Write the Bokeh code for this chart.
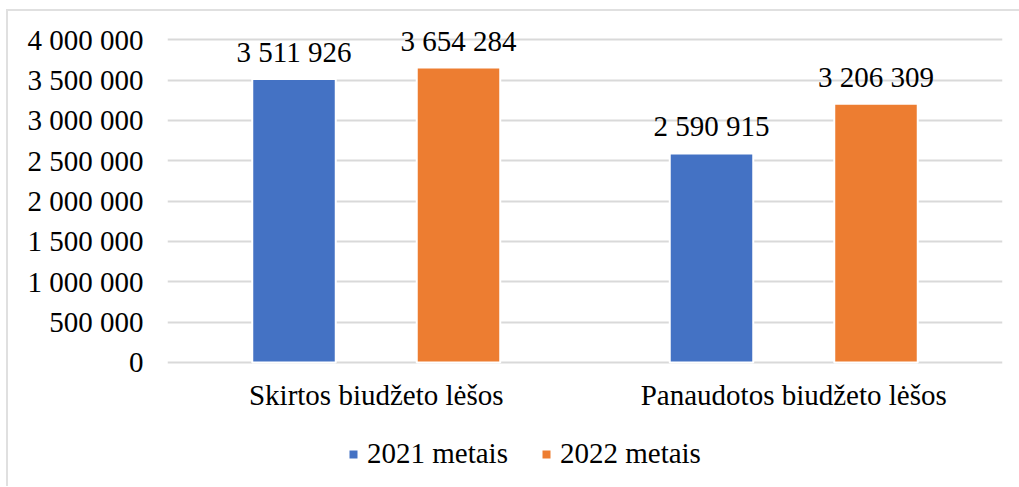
from bokeh.plotting import figure
from bokeh.models import (FactorRange, Range1d, ColumnDataSource, FixedTicker,
                          CustomJSTickFormatter, Legend, LegendItem)
from bokeh.layouts import column
from bokeh.transform import dodge
from bokeh.core.properties import value
from bokeh.embed import file_html
from bokeh.resources import INLINE

categories = ["Skirtos biudžeto lėšos", "Panaudotos biudžeto lėšos"]
series_names = ["2021 metais", "2022 metais"]
values_2021 = [3511926, 2590915]
values_2022 = [3654284, 3206309]
y_ticks = [0, 500000, 1000000, 1500000, 2000000, 2500000, 3000000, 3500000, 4000000]

FONT = "Liberation Serif"
FS = "29px"
BLUE = "#4472C4"
ORANGE = "#ED7D31"
GRID = "#d9d9d9"


def fmt(v):
    return f"{v:,}".replace(",", " ")


src = ColumnDataSource(dict(
    cat=categories,
    v21=values_2021,
    v22=values_2022,
    l21=[fmt(v) for v in values_2021],
    l22=[fmt(v) for v in values_2022],
))

p = figure(
    x_range=FactorRange(factors=categories, range_padding=0, factor_padding=0),
    y_range=Range1d(-50000, 4300000),
    width=1011, height=409,
    min_border_left=159, min_border_right=17,
    min_border_top=4, min_border_bottom=54,
    output_backend="svg", toolbar_location=None,
)
p.outline_line_color = None
p.background_fill_color = "white"
p.border_fill_color = "white"

off = 0.197
w = 0.2
r1 = p.vbar(x=dodge("cat", -off, range=p.x_range), top="v21", width=w, source=src,
            fill_color=BLUE, line_color="white", line_width=2)
r2 = p.vbar(x=dodge("cat", off, range=p.x_range), top="v22", width=w, source=src,
            fill_color=ORANGE, line_color="white", line_width=2)

for col, lab in (("v21", "l21"), ("v22", "l22")):
    o = -off if col == "v21" else off
    p.text(x=dodge("cat", o, range=p.x_range), y=col, text=lab, source=src,
           text_align="center", text_baseline="alphabetic", y_offset=-27,
           text_font=value(FONT), text_font_size=FS, text_color="black")

# axes
p.yaxis.ticker = FixedTicker(ticks=y_ticks)
p.yaxis.formatter = CustomJSTickFormatter(
    code="return Math.round(tick).toString().replace(/\\B(?=(\\d{3})+(?!\\d))/g, ' ');")
p.yaxis.axis_line_color = None
p.yaxis.major_tick_line_color = None
p.yaxis.minor_tick_line_color = None
p.yaxis.major_tick_out = 0
p.yaxis.major_label_standoff = 24
p.yaxis.major_label_text_font = FONT
p.yaxis.major_label_text_font_size = FS
p.yaxis.major_label_text_color = "black"

p.xaxis.axis_line_color = None
p.xaxis.major_tick_line_color = None
p.xaxis.minor_tick_line_color = None
p.xaxis.major_tick_out = 0
p.xaxis.major_label_standoff = 12
p.xaxis.major_label_text_font = FONT
p.xaxis.major_label_text_font_size = FS
p.xaxis.major_label_text_color = "black"

p.xgrid.grid_line_color = None
p.ygrid.ticker = FixedTicker(ticks=y_ticks)
p.ygrid.grid_line_color = GRID
p.ygrid.grid_line_width = 2

# legend strip below the chart (its zero-width bars lie outside its range; only swatches show)
pl = figure(
    x_range=FactorRange(factors=categories), y_range=Range1d(-8000000, -4000000),
    width=1011, height=66,
    min_border_left=0, min_border_right=0, min_border_top=0, min_border_bottom=0,
    x_axis_type=None, y_axis_type=None,
    output_backend="svg", toolbar_location=None,
)
pl.outline_line_color = None
pl.xgrid.grid_line_color = None
pl.ygrid.grid_line_color = None
lr1 = pl.vbar(x="cat", top="v21", width=0, source=src, fill_color=BLUE, line_color=None)
lr2 = pl.vbar(x="cat", top="v22", width=0, source=src, fill_color=ORANGE, line_color=None)

legend = Legend(
    items=[LegendItem(label=series_names[0], renderers=[lr1]),
           LegendItem(label=series_names[1], renderers=[lr2])],
    orientation="horizontal", location=(181, 16),
    glyph_width=10, glyph_height=10, label_standoff=9, spacing=33,
    padding=0, margin=0, border_line_color=None, background_fill_alpha=0,
    label_text_font=FONT, label_text_font_size=FS, label_text_color="black",
)
pl.add_layout(legend, "center")

layout = column(p, pl, spacing=0)
layout.styles = {"margin-left": "6px", "margin-top": "9px",
                 "border-left": "2px solid #e0e0e0", "border-top": "2px solid #e0e0e0"}

open("out.html", "w").write(file_html(layout, INLINE))
